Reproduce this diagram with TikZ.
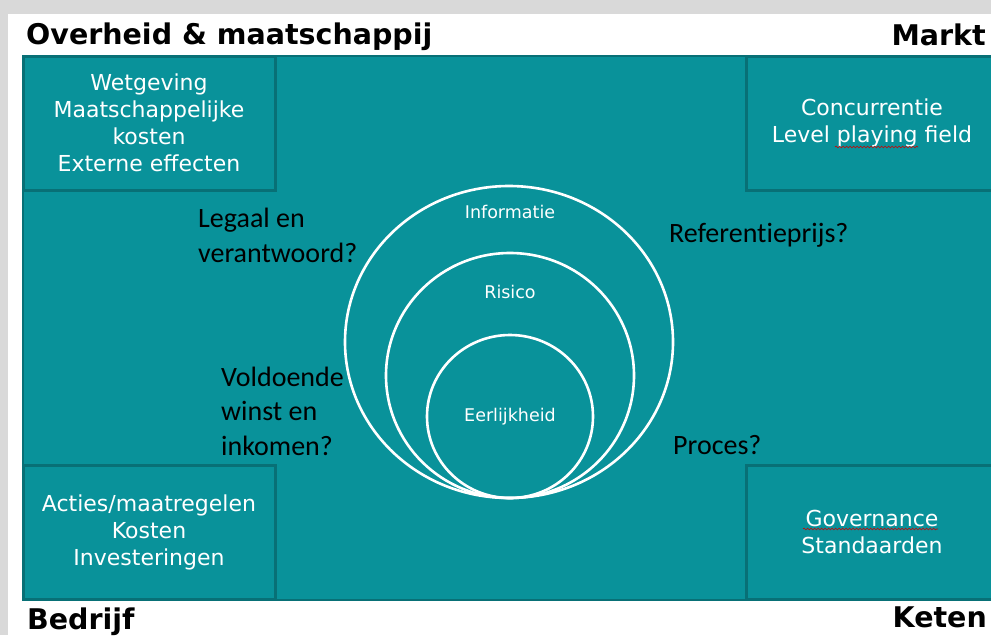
\documentclass[tikz,border=0pt]{standalone}
\usepackage{fontspec}
\setmainfont{DejaVu Sans}
\newfontfamily\calib[Ligatures=NoCommon]{Carlito}
\usepackage{xcolor}
\usepackage{tikz}
\usetikzlibrary{shapes.geometric, decorations.pathmorphing}

\definecolor{tealfill}{RGB}{9,146,154}
\definecolor{tealline}{RGB}{8,112,118}

\begin{document}
\begin{tikzpicture}[
    x=1pt, y=-1pt, % pixel grid, y downwards
    box/.style={draw=tealline, line width=3pt, fill=tealfill, minimum width=252pt, minimum height=134pt, inner sep=0pt, align=center, text=white, font=\fontsize{22}{27}\selectfont},
    ring/.style={draw=white, line width=2.6pt, ellipse, inner sep=0pt},
    ringtext/.style={text=white, font=\fontsize{17.5}{21}\selectfont},
    corner/.style={font=\fontsize{28.5}{34}\selectfont\bfseries, inner sep=0pt},
    question/.style={font=\calib\fontsize{28}{34.5}\selectfont, align=left, inner sep=0pt, anchor=base west},
    squiggle/.style={draw=red!80!black, line width=0.6pt, decorate, decoration={snake, segment length=3.5pt, amplitude=0.9pt}}
]
\useasboundingbox (0,0) rectangle (991,635);

% screenshot frame
\fill[gray!30] (0,0) rectangle (991,635);
\fill[white] (8,14) rectangle (991,635);

% main field
\node[draw=tealline, line width=2pt, fill=tealfill, minimum width=980pt, minimum height=544pt, inner sep=0pt] (field) at (513,328) {};

% corner boxes
\node[box] (wet) at (149,123) {Wetgeving\\Maatschappelijke\\kosten\\Externe effecten};
\node[box] (conc) at (872,123) {Concurrentie\\Level playing field};
\node[box] (acties) at (149,532) {Acties/maatregelen\\Kosten\\Investeringen};
\node[box] (gov) at (872,532) {Governance\\Standaarden};

% spelling marks
\draw[squiggle] (835,147) -- (918,147);
\draw[squiggle] (803,529) -- (938,529);

% nested rings
\node[ring, minimum width=328pt, minimum height=312pt] (info) at (509,342) {};
\node[ring, minimum width=248pt, minimum height=245pt] (risico) at (510,375.5) {};
\node[ring, minimum width=166pt, minimum height=163pt] (eerlijk) at (510,416.5) {};
\node[ringtext] (infolab) at (510,212) {Informatie};
\node[ringtext] (risicolab) at (510,292) {Risico};
\node[ringtext] (eerlijklab) at (510,417) {Eerlijkheid};

% questions (base = last line)
\node[question] (legaal) at (198,262) {Legaal en\\verantwoord?};
\node[question] (winst) at (221,455) {Voldoende\\winst en\\inkomen?};
\node[question] (prijs) at (669,242) {Referentieprijs?};
\node[question] (proces) at (673,454) {Proces?};

% corner titles
\node[corner, anchor=base west] (overheid) at (26,44) {Overheid \& maatschappij};
\node[corner, anchor=base east] (markt) at (986,45) {Markt};
\node[corner, anchor=base west] (bedrijf) at (27,629) {Bedrijf};
\node[corner, anchor=base east] (keten) at (987,627) {Keten};

\end{tikzpicture}
\end{document}
